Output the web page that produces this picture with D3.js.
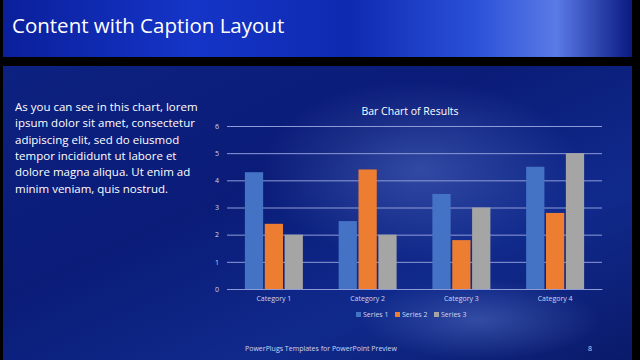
<!DOCTYPE html>
<html><head><meta charset="utf-8">
<script src="https://cdn.jsdelivr.net/npm/d3@7"></script>
<style>body{margin:0;background:#000;}svg{display:block;}</style>
</head><body>
<script>
const categories = ["Category 1","Category 2","Category 3","Category 4"];
const seriesNames = ["Series 1","Series 2","Series 3"];
const series1 = [4.3, 2.5, 3.5, 4.5];
const series2 = [2.4, 4.4, 1.8, 2.8];
const series3 = [2, 2, 3, 5];
const yTicks = [0,1,2,3,4,5,6];
const colors = ["#4472c4","#ed7d31","#a5a5a5"];
const seriesValues = [series1, series2, series3];

const W = 640, H = 360;
const svg = d3.select("body").append("svg").attr("width", W).attr("height", H);
const defs = svg.append("defs");

const hg = defs.append("linearGradient").attr("id","hg").attr("x1",0).attr("x2",1).attr("y1",0).attr("y2",0);
[[0,"#0a1f9a"],[0.3,"#1535c8"],[0.55,"#0e2ab0"],[0.75,"#2a50d8"],[0.88,"#5a7ae6"],[1,"#0a1a80"]].forEach(s=>hg.append("stop").attr("offset",s[0]).attr("stop-color",s[1]));
const mg = defs.append("linearGradient").attr("id","mg").attr("x1",0).attr("x2",1).attr("y1",0).attr("y2",1);
[[0,"#0d2180"],[0.4,"#0a1c78"],[0.7,"#102a8c"],[1,"#0a1a6a"]].forEach(s=>mg.append("stop").attr("offset",s[0]).attr("stop-color",s[1]));
const rg = defs.append("radialGradient").attr("id","rg").attr("cx",0.5).attr("cy",0.5).attr("r",0.5);
[[0,"rgba(120,150,230,0.35)"],[1,"rgba(120,150,230,0)"]].forEach(s=>rg.append("stop").attr("offset",s[0]).attr("stop-color",s[1]));

svg.append("rect").attr("width",W).attr("height",H).attr("fill","#000");
svg.append("rect").attr("x",3).attr("y",66).attr("width",629).attr("height",294).attr("fill","url(#mg)");
svg.append("ellipse").attr("cx",420).attr("cy",170).attr("rx",160).attr("ry",90).attr("fill","url(#rg)");
svg.append("ellipse").attr("cx",480).attr("cy",320).attr("rx",120).attr("ry",40).attr("fill","url(#rg)");
svg.append("rect").attr("x",3).attr("y",0).attr("width",629).attr("height",57).attr("fill","url(#hg)");

svg.append("text").attr("x",12).attr("y",33).attr("fill","#fff")
  .attr("font-family","'Open Sans', sans-serif").attr("font-size",20.5)
  .text("Content with Caption Layout");

const body = ["As you can see in this chart, lorem","ipsum dolor sit amet, consectetur","adipiscing elit, sed do eiusmod","tempor incididunt ut labore et","dolore magna aliqua. Ut enim ad","minim veniam, quis nostrud."];
svg.append("g").selectAll("text").data(body).join("text")
  .attr("x",15).attr("y",(d,i)=>111+i*16.3).attr("fill","#fff")
  .attr("font-family","'Open Sans', sans-serif").attr("font-size",11.5).text(d=>d);

const x0 = d3.scaleBand().domain(categories).range([227,602]);
const x1 = d3.scaleBand().domain(seriesNames).range([0,58]).paddingInner(0.08);
const y = d3.scaleLinear().domain([0,6]).range([289,126]);

const ax = svg.append("g").attr("transform","translate(227,0)")
  .call(d3.axisLeft(y).tickValues(yTicks).tickFormat(d3.format("d")).tickSize(-375).tickPadding(8));
ax.select(".domain").remove();
ax.selectAll(".tick line").attr("stroke","#8f9bd8").attr("stroke-width",1);
ax.selectAll(".tick text").attr("fill","#d0d6f0").attr("font-size",7).attr("font-family","'Open Sans', sans-serif");

const groups = svg.append("g").selectAll("g").data(categories).join("g")
  .attr("transform",d=>`translate(${x0(d)+x0.bandwidth()/2-29},0)`);
groups.selectAll("rect").data((d,i)=>seriesNames.map((s,j)=>({s,v:seriesValues[j][i],c:colors[j]}))).join("rect")
  .attr("x",d=>x1(d.s)).attr("width",x1.bandwidth())
  .attr("y",d=>y(d.v)).attr("height",d=>y(0)-y(d.v)).attr("fill",d=>d.c);

const xa = svg.append("g").attr("transform","translate(0,289)")
  .call(d3.axisBottom(x0).tickSize(0).tickPadding(7));
xa.select(".domain").attr("stroke","#8f9bd8");
xa.selectAll(".tick text").attr("fill","#d0d6f0").attr("font-size",7).attr("font-family","'Open Sans', sans-serif");

svg.append("text").attr("x",410).attr("y",115).attr("text-anchor","middle").attr("fill","#fff")
  .attr("font-family","'Open Sans', sans-serif").attr("font-size",10.5).text("Bar Chart of Results");

const legX = [356, 395, 434];
const leg = svg.append("g").selectAll("g").data(seriesNames).join("g")
  .attr("transform",(d,i)=>`translate(${legX[i]},315)`);
leg.append("rect").attr("x",0).attr("y",-3).attr("width",5).attr("height",5).attr("fill",(d,i)=>colors[i]);
leg.append("text").attr("x",7).attr("y",2).attr("fill","#d0d6f0").attr("font-size",7)
  .attr("font-family","'Open Sans', sans-serif").text(d=>d);

svg.append("text").attr("x",245).attr("y",351).attr("fill","#d0d6f0").attr("font-size",7)
  .attr("font-family","'Open Sans', sans-serif").text("PowerPlugs Templates for PowerPoint  Preview");
svg.append("text").attr("x",588).attr("y",351).attr("fill","#d0d6f0").attr("font-size",7)
  .attr("font-family","'Open Sans', sans-serif").text("8");
</script>
</body></html>
